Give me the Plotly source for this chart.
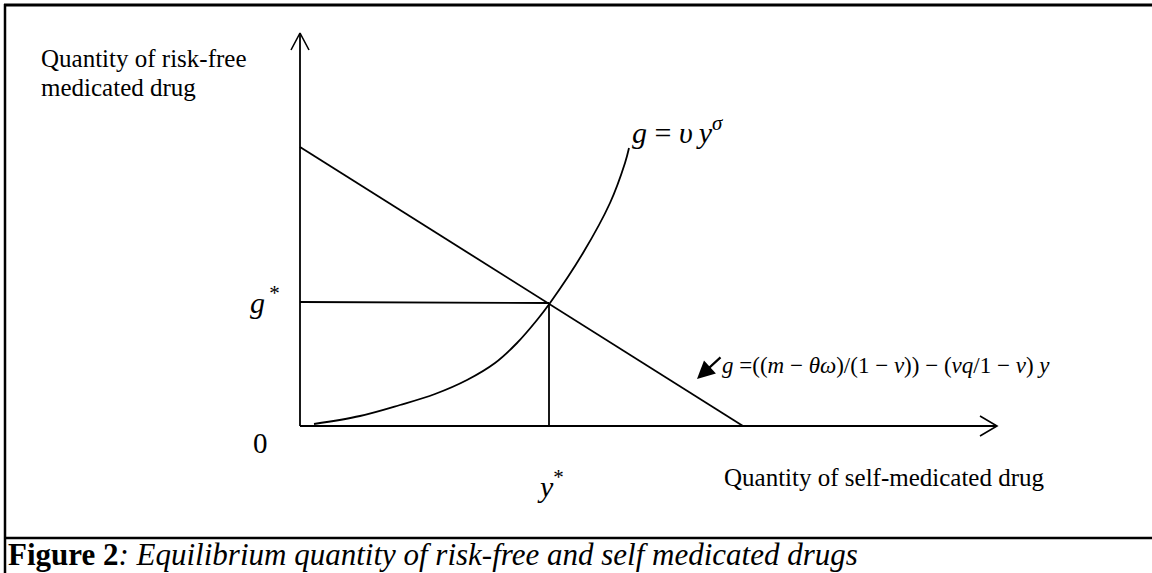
import plotly.graph_objects as go

# ---- data (diagram units: 1 unit = 10 px of the original drawing) ----
budget_x = [0.0, 44.3]          # budget line: g-intercept and y-intercept
budget_g = [27.9, 0.0]
curve_y = [1.4, 6.0, 10.0, 13.5, 16.7, 19.5, 21.7, 23.7, 25.0, 28.3, 31.0, 32.5, 32.9]   # g = v*y^sigma
curve_g = [0.2, 1.0, 2.1, 3.2, 4.6, 6.3, 8.3, 10.6, 12.3, 17.3, 22.3, 26.3, 27.8]
y_star = 24.9
g_star = [12.4, 12.3]           # horizontal guide (left, right end)
axis_x_end = 69.7
axis_y_end = 39.3
eq_arrow_tip = (39.7, 4.7)

FONT = "Liberation Serif, Times New Roman, serif"
BLACK = "#000000"

fig = go.Figure()

def seg(xs, ys, w=1.8, shape="linear"):
    fig.add_trace(go.Scatter(x=xs, y=ys, mode="lines", line=dict(color=BLACK, width=w, shape=shape),
                             hoverinfo="skip", showlegend=False))

# axes
seg([0, 0], [0, axis_y_end])
seg([0, axis_x_end], [0, 0])
# open arrowheads
seg([-0.9, 0, 0.9], [axis_y_end - 1.7, axis_y_end, axis_y_end - 1.7], w=1.6)
seg([axis_x_end - 1.7, axis_x_end, axis_x_end - 1.7], [1.0, 0, -1.0], w=1.6)
# budget line
seg(budget_x, budget_g)
# curve
seg(curve_y, curve_g, shape="spline")
# guides
seg([0, y_star], g_star)
seg([y_star, y_star], [0, g_star[1]])

ann = []
def txt(x, y, t, size=25, xanchor="left", yanchor="middle"):
    ann.append(dict(x=x, y=y, xref="x", yref="y", text=t, showarrow=False,
                    font=dict(family=FONT, size=size, color=BLACK),
                    xanchor=xanchor, yanchor=yanchor))

txt(-26.1, 36.8, "Quantity of risk-free")
txt(-26.1, 33.9, "medicated drug")
txt(-5.2, 12.6, "<i>g</i><sup>\u2009*</sup>", size=30)
txt(-4.0, -1.7, "0", size=29, xanchor="center")
txt(23.5, -5.8, "<i>y</i><sup>*</sup>", size=30)
txt(74.7, -5.1, "Quantity of self-medicated drug", xanchor="right")
txt(33.0, 29.6, "<i>g</i>\u00a0=\u00a0<i>υ\u2009y</i><sup><i>σ</i></sup>", size=30)
txt(42.0, 6.1, "<i>g</i> =((<i>m</i> − <i>θω</i>)/(1 − <i>v</i>)) − (<i>vq</i>/1 − <i>v</i>) <i>y</i>", size=23)
txt(-29.4, -12.8, "<b>Figure 2</b><i>: Equilibrium quantity of risk-free and self medicated drugs</i>", size=31)

ann.append(dict(x=eq_arrow_tip[0], y=eq_arrow_tip[1], xref="x", yref="y", text="",
                showarrow=True, ax=25, ay=-23, arrowhead=2, arrowsize=1.6, arrowwidth=2.2,
                arrowcolor=BLACK))

shapes = [
    dict(type="line", xref="paper", yref="paper", x0=4/1152, x1=1, y0=1-5/573, y1=1-5/573,
         line=dict(color=BLACK, width=3)),
    dict(type="line", xref="paper", yref="paper", x0=5/1152, x1=5/1152, y0=0, y1=1-4/573,
         line=dict(color=BLACK, width=2.5)),
    dict(type="line", xref="paper", yref="paper", x0=4/1152, x1=1, y0=1-538/573, y1=1-538/573,
         line=dict(color=BLACK, width=2.5)),
]

fig.update_layout(
    width=1152, height=573, margin=dict(l=0, r=0, t=0, b=0),
    paper_bgcolor="white", plot_bgcolor="white",
    xaxis=dict(range=[-30, 85.2], visible=False, fixedrange=True),
    yaxis=dict(range=[-14.7, 42.6], visible=False, fixedrange=True),
    annotations=ann, shapes=shapes, showlegend=False,
)

fig.write_html("out.html", config={"displayModeBar": False},
               post_script="document.body.style.margin='0';document.body.style.padding='0';document.body.style.overflow='hidden';")
